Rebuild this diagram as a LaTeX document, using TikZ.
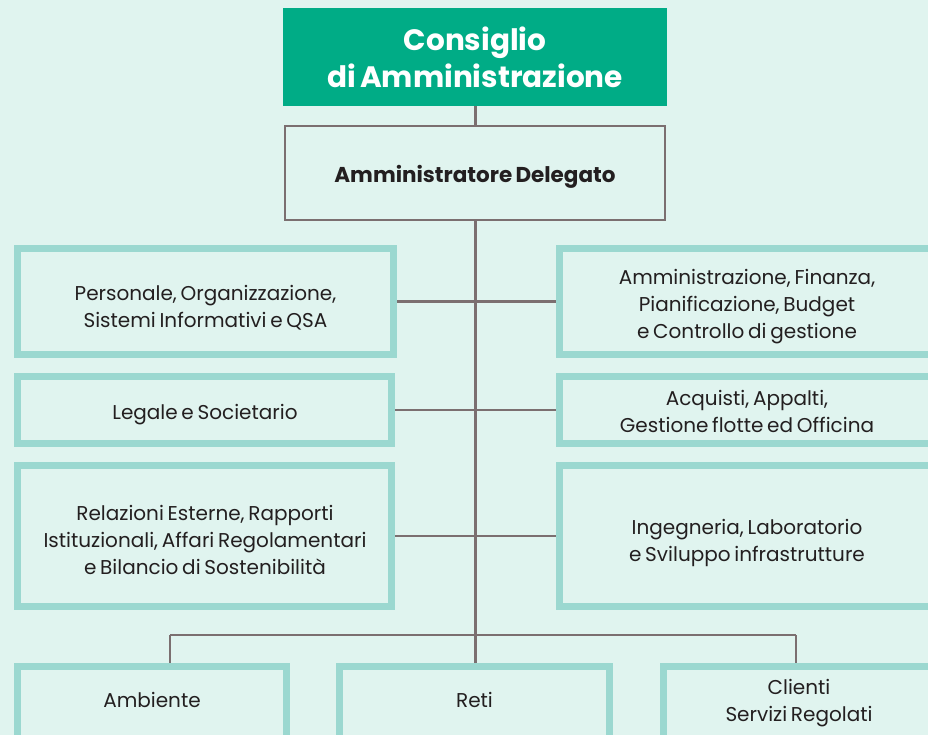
\documentclass[tikz,border=0pt]{standalone}
\usepackage{fontspec}
\setmainfont{Poppins}[WordSpace=0.7]
\definecolor{bgc}{HTML}{E0F4EF}
\definecolor{tealb}{HTML}{9BD8D0}
\definecolor{greenf}{HTML}{00AC86}
\definecolor{linec}{HTML}{7B6F70}
\definecolor{txt}{HTML}{231F20}
\begin{document}
\begin{tikzpicture}[x=1pt,y=-1pt,
  tbox/.style={draw=tealb, line width=7pt, fill=bgc, inner sep=0pt},
  tlab/.style={align=center, text=txt, font=\fontsize{20}{27}\selectfont, inner sep=0pt},
  conn/.style={draw=linec, line width=2.2pt}]
\fill[bgc] (0,0) rectangle (928,735);
\useasboundingbox (0,0) rectangle (928,735);
% top
\node[fill=greenf, minimum width=384pt, minimum height=98pt, align=center, text=white,
  font=\fontsize{29.5}{37}\selectfont\bfseries, inner sep=0pt] (cda) at (475,57) {Consiglio\\di Amministrazione};
\node[draw=linec, line width=2.5pt, fill=bgc, minimum width=380pt, minimum height=94pt, inner sep=0pt] (ad) at (475,173) {};
\node[font=\fontsize{21.5}{24}\selectfont\bfseries, text=txt, inner sep=0pt] (adt) at ([yshift=-4]ad.center) {Amministratore Delegato};
% side boxes
\node[tbox, minimum width=376pt, minimum height=106pt] (pers) at (205.5,301.5) {};
\node[tbox, minimum width=372pt, minimum height=106pt] (amm) at (745.5,301.5) {};
\node[tbox, minimum width=374pt, minimum height=67pt] (leg) at (204.5,410) {};
\node[tbox, minimum width=372pt, minimum height=67pt] (acq) at (745.5,410) {};
\node[tbox, minimum width=374pt, minimum height=141pt] (rel) at (204.5,536) {};
\node[tbox, minimum width=372pt, minimum height=141pt] (ing) at (745.5,536) {};
\node[tlab] (perst) at (205.5,307.5) {Personale, Organizzazione,\\Sistemi Informativi e QSA};
\node[tlab] (ammt) at (747,307) {Amministrazione, Finanza,\\Pianificazione, Budget\\e Controllo di gestione};
\node[tlab] (legt) at (205,415) {Legale e Societario};
\node[tlab] (acqt) at (747,411) {Acquisti, Appalti,\\Gestione flotte ed Officina};
\node[tlab] (relt) at (205,540) {Relazioni Esterne, Rapporti\\Istituzionali, Affari Regolamentari\\e Bilancio di Sostenibilità};
\node[tlab] (ingt) at (747,543) {Ingegneria, Laboratorio\\e Sviluppo infrastrutture};
% bottom boxes
\node[tbox, minimum width=269pt, minimum height=75pt] (amb) at (152,704) {};
\node[tbox, minimum width=270pt, minimum height=75pt] (reti) at (474.5,704) {};
\node[tbox, minimum width=270pt, minimum height=75pt] (cli) at (798.5,704) {};
\node[tlab] (ambt) at (152,700) {Ambiente};
\node[tlab] (retit) at (474.5,700) {Reti};
\node[tlab] (clit) at (799,703) {Clienti\\Servizi Regolati};
% connectors
\coordinate (jb) at (475.5,635);
\coordinate (jl) at (170,635);
\coordinate (jr) at (796,635);
\draw[conn] (cda.south -| jb) -- (ad.north -| jb);
\draw[conn] (ad.south -| jb) -- (jb);
\draw[conn] (pers.east) -- (amm.west);
\draw[conn] (leg.east) -- (acq.west);
\draw[conn] (rel.east) -- (ing.west);
\draw[conn] (jl) -- (jr);
\draw[conn] (jl) -- (amb.north -| jl);
\draw[conn] (jb) -- (reti.north -| jb);
\draw[conn] (jr) -- (cli.north -| jr);
\end{tikzpicture}
\end{document}
